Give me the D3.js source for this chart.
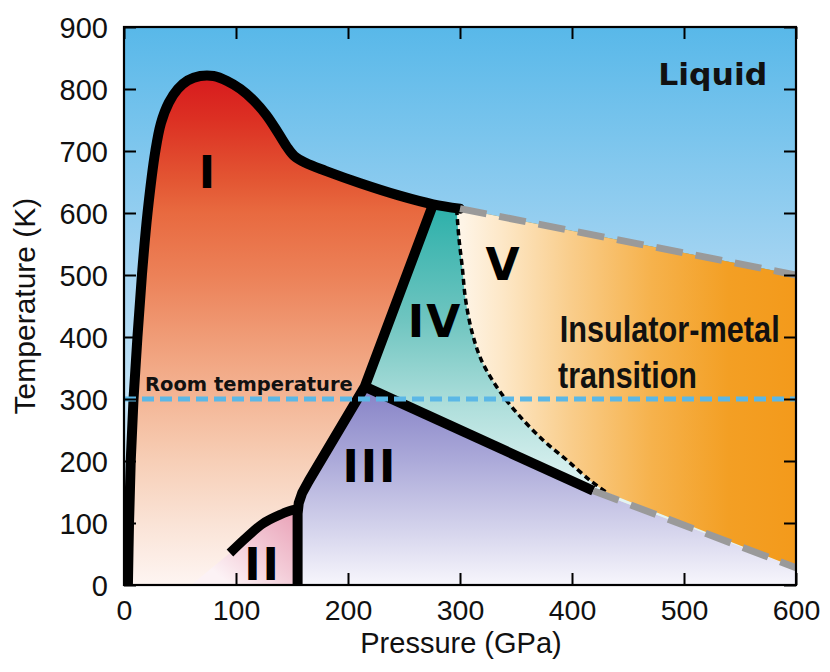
<!DOCTYPE html>
<html>
<head>
<meta charset="utf-8">
<script src="https://cdn.jsdelivr.net/npm/d3@7/dist/d3.min.js"></script>
<style>
html,body{margin:0;padding:0;background:#fff;}
svg{display:block;}
</style>
</head>
<body>
<svg id="chart" width="830" height="672"></svg>
<script>
// ---------------- data (pressure in GPa, temperature in K) ----------------
const xTicks = [0, 100, 200, 300, 400, 500, 600];
const yTicks = [0, 100, 200, 300, 400, 500, 600, 700, 800, 900];

// melting line (phase I / liquid)
const meltP = [3.5, 4.5, 6, 8.5, 12, 16, 21, 28, 33, 40, 48, 57, 68, 80, 92, 104, 116, 127, 137, 145, 152, 162, 180, 211, 246, 276, 300];
const meltT = [0, 100, 200, 300, 400, 500, 600, 700, 745, 778, 800, 814, 821, 821, 813, 800, 781, 758, 731, 708, 692, 681, 668, 648, 628, 614, 607];

// I–IV, I–III and II–III boundaries (one solid line)
const boundP = [276, 215, 165, 159, 156, 155, 155];
const boundT = [614, 320, 168, 148, 132, 115, 0];

// III–IV boundary
const iiiIvP = [215, 419];
const iiiIvT = [320, 152];

// phase II dome
const arcP = [94.6, 109.5, 124, 139, 151, 155];
const arcT = [51.6, 77, 99, 113, 121, 122];

// IV–V boundary (dotted)
const dotP = [297, 299, 302, 305, 311, 319, 333, 351, 374, 395, 416, 431];
const dotT = [606, 560, 513, 460, 406, 363, 319, 277, 234, 202, 169, 149];

// extrapolated boundaries (grey dashed)
const upperP = [300, 600];
const upperT = [607, 500];
const lowerP = [419, 600];
const lowerT = [152, 28];

// room temperature
const roomP = [0, 600];
const roomT = [300, 300];

// labels
const phaseNames = ["I", "II", "III", "IV", "V"];
const phaseP = [75, 123.7, 219.6, 277.7, 338.8];
const phaseT = [640, 8, 166, 400, 492];

const noteText = ["Liquid", "Room temperature", "Insulator-metal", "transition"];
const noteP = [477, 18.8, 389, 387.5];
const noteT = [806, 313, 392, 318];

// ---------------- drawing ----------------
const svg = d3.select("#chart");
const x = d3.scaleLinear().domain([0, 600]).range([124, 796]);
const y = d3.scaleLinear().domain([0, 900]).range([585, 27]);

const zip = (a, b) => a.map((v, i) => [v, b[i]]);
const line = d3.line().x(d => x(d[0])).y(d => y(d[1]));
const smooth = d3.line().x(d => x(d[0])).y(d => y(d[1])).curve(d3.curveCatmullRom.alpha(0.5));
const L = (P, T) => "L" + x(P) + "," + y(T);
const M = (P, T) => "M" + x(P) + "," + y(T);

const defs = svg.append("defs");
defs.append("clipPath").attr("id", "plotClip").append("rect")
  .attr("x", x(0)).attr("y", y(900))
  .attr("width", x(600) - x(0)).attr("height", y(0) - y(900));

function grad(id, x1, y1, x2, y2, stops) {
  const g = defs.append("linearGradient").attr("id", id)
    .attr("gradientUnits", "userSpaceOnUse")
    .attr("x1", x1).attr("y1", y1).attr("x2", x2).attr("y2", y2);
  stops.forEach(s => g.append("stop").attr("offset", s[0]).attr("stop-color", s[1]));
}

grad("gLiquid", 0, y(900), 0, y(0), [[0, "#58b8e9"], [0.45, "#a7d5f2"], [0.67, "#c4e3f6"], [1, "#e6f3fc"]]);
grad("gI", 0, y(826), 0, y(0), [
  [0, "#d7181d"], [0.09, "#dc3023"], [0.21, "#e35633"], [0.27, "#e8693f"],
  [0.4, "#ec8259"], [0.52, "#f09d78"], [0.64, "#f4b797"], [0.76, "#f7cfb7"],
  [0.88, "#fae3d6"], [1, "#fef5f2"]]);
grad("gII", x(152), y(125), x(95), y(0), [[0, "#e9a0b6"], [0.55, "#f3cbd7"], [1, "#fcf2f5"]]);
grad("gIII", 0, y(320), 0, y(0), [[0, "#8581c6"], [0.35, "#a9a7d8"], [0.7, "#d2d1eb"], [1, "#f7f6fc"]]);
grad("gIV", 0, y(612), 0, y(150), [[0, "#2cb0aa"], [0.4, "#6fc5c0"], [0.72, "#b2e0dd"], [1, "#e2f4f3"]]);
grad("gV", x(300), 0, x(600), 0, [
  [0, "#fef5e8"], [0.13, "#fde7c6"], [0.33, "#f9cd8b"], [0.57, "#f6b24c"],
  [0.8, "#f39f24"], [1, "#f39a1b"]]);

const plot = svg.append("g").attr("clip-path", "url(#plotClip)");

// liquid background
plot.append("rect")
  .attr("x", x(0)).attr("y", y(900))
  .attr("width", x(600) - x(0)).attr("height", y(0) - y(900))
  .attr("fill", "url(#gLiquid)");

// phase I (everything under the melting line, others painted over it)
const melt = zip(meltP, meltT);
plot.append("path")
  .attr("d", smooth(melt) + L(upperP[1], upperT[1]) + L(600, 0) + L(meltP[0], 0) + "Z")
  .attr("fill", "url(#gI)");

// phase III
const bound = zip(boundP, boundT);
const iiiPoly = bound.slice(1).reverse()
  .concat([[iiiIvP[1], iiiIvT[1]], [lowerP[1], lowerT[1]], [600, 0]]);
plot.append("path").attr("d", line(iiiPoly) + "Z").attr("fill", "url(#gIII)");

// phase IV
const ivPoly = [[iiiIvP[0], iiiIvT[0]], [boundP[0], boundT[0]], [upperP[0], upperT[0]],
  [upperP[1], upperT[1]], [lowerP[1], lowerT[1]], [lowerP[0], lowerT[0]]];
plot.append("path").attr("d", line(ivPoly) + "Z").attr("fill", "url(#gIV)");

// phase V
const dots = zip(dotP, dotT);
plot.append("path")
  .attr("d", smooth(dots) + L(lowerP[1], lowerT[1]) + L(upperP[1], upperT[1]) + L(upperP[0], upperT[0]) + "Z")
  .attr("fill", "url(#gV)");

// phase II
const arc = zip(arcP, arcT);
plot.append("path")
  .attr("d", M(60, 0) + "L" + smooth(arc).slice(1) + L(arcP[arcP.length - 1], 0) + "Z")
  .attr("fill", "url(#gII)");

// solid phase boundaries
const solid = plot.append("g").attr("fill", "none").attr("stroke", "#000")
  .attr("stroke-width", 10).attr("stroke-linejoin", "round");
solid.append("path").attr("d", smooth(melt)).attr("stroke-linecap", "round");
solid.append("path").attr("d", line(bound));
solid.append("path").attr("d", line(zip(iiiIvP, iiiIvT)));
solid.append("path").attr("d", smooth(arc)).attr("stroke-width", 9.5);

// dotted IV–V boundary
plot.append("path").attr("d", smooth(dots))
  .attr("fill", "none").attr("stroke", "#000").attr("stroke-width", 3.5)
  .attr("stroke-dasharray", "6,4");

// grey dashed extrapolations
plot.selectAll("path.grey").data([zip(upperP, upperT), zip(lowerP, lowerT)]).join("path")
  .attr("class", "grey").attr("d", line)
  .attr("fill", "none").attr("stroke", "#9a9a9a").attr("stroke-width", 7)
  .attr("stroke-dasharray", "27,13");

// room temperature line
plot.append("path").attr("d", line(zip(roomP, roomT)))
  .attr("fill", "none").attr("stroke", "#5bb7e6").attr("stroke-width", 5)
  .attr("stroke-dasharray", "12,6");

// phase labels
svg.append("g").selectAll("text").data(phaseNames).join("text")
  .attr("x", (d, i) => x(phaseP[i])).attr("y", (d, i) => y(phaseT[i]))
  .attr("text-anchor", "middle")
  .attr("font-family", "'DejaVu Sans', sans-serif").attr("font-weight", "bold")
  .attr("font-size", 44).attr("letter-spacing", 2).attr("fill", "#000")
  .text(d => d);

// annotations
const noteStyle = [
  {font: "'DejaVu Sans', sans-serif", size: 31, len: 109},
  {font: "'DejaVu Sans', sans-serif", size: 19.5, len: null},
  {font: "'Liberation Sans Narrow', 'Liberation Sans', sans-serif", size: 37, len: 220},
  {font: "'Liberation Sans Narrow', 'Liberation Sans', sans-serif", size: 37, len: 139}
];
svg.append("g").selectAll("text").data(noteText).join("text")
  .attr("x", (d, i) => x(noteP[i])).attr("y", (d, i) => y(noteT[i]))
  .attr("font-family", (d, i) => noteStyle[i].font)
  .attr("font-size", (d, i) => noteStyle[i].size)
  .attr("font-weight", "bold").attr("fill", "#111")
  .each(function (d, i) {
    if (noteStyle[i].len) d3.select(this).attr("textLength", noteStyle[i].len).attr("lengthAdjust", "spacingAndGlyphs");
  })
  .text(d => d);

// axes (inward ticks on all four sides)
const tickStyle = g => {
  g.select(".domain").remove();
  g.selectAll(".tick line").attr("stroke", "#000").attr("stroke-width", 2);
};
const gB = svg.append("g").attr("transform", `translate(0,${y(0)})`)
  .call(d3.axisBottom(x).tickValues(xTicks).tickSizeInner(-12).tickSizeOuter(0))
  .call(tickStyle);
gB.selectAll("text").attr("y", 35).attr("dy", 0)
  .attr("font-family", "'Liberation Sans', Arial, sans-serif").attr("font-size", 28.5).attr("fill", "#111");

const gL = svg.append("g").attr("transform", `translate(${x(0)},0)`)
  .call(d3.axisLeft(y).tickValues(yTicks).tickSizeInner(-12).tickSizeOuter(0))
  .call(tickStyle);
gL.selectAll("text").attr("x", -16).attr("dy", "0.36em")
  .attr("font-family", "'Liberation Sans', Arial, sans-serif").attr("font-size", 29).attr("fill", "#111");

svg.append("g").attr("transform", `translate(0,${y(900)})`)
  .call(d3.axisTop(x).tickValues(xTicks).tickSizeInner(-12).tickSizeOuter(0).tickFormat(""))
  .call(tickStyle);
svg.append("g").attr("transform", `translate(${x(600)},0)`)
  .call(d3.axisRight(y).tickValues(yTicks).tickSizeInner(-12).tickSizeOuter(0).tickFormat(""))
  .call(tickStyle);

// frame
svg.append("rect")
  .attr("x", x(0)).attr("y", y(900))
  .attr("width", x(600) - x(0)).attr("height", y(0) - y(900))
  .attr("fill", "none").attr("stroke", "#000").attr("stroke-width", 2.2);

// axis titles
svg.append("text")
  .attr("x", (x(0) + x(600)) / 2 + 1).attr("y", 653)
  .attr("text-anchor", "middle")
  .attr("font-family", "'Liberation Sans', Arial, sans-serif").attr("font-size", 29).attr("fill", "#111")
  .text("Pressure (GPa)");
svg.append("text")
  .attr("transform", `translate(35,${(y(0) + y(900)) / 2}) rotate(-90)`)
  .attr("text-anchor", "middle")
  .attr("font-family", "'Liberation Sans', Arial, sans-serif").attr("font-size", 30).attr("fill", "#111")
  .text("Temperature (K)");
</script>
</body>
</html>
